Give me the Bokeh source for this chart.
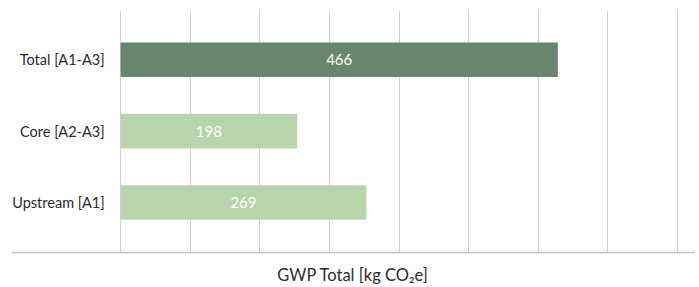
from bokeh.plotting import figure
from bokeh.models import Range1d, FixedTicker, ColumnDataSource
from bokeh.core.properties import value
from bokeh.embed import file_html
from bokeh.resources import INLINE
import numpy as np

# ---- data ----
categories = ["Total [A1-A3]", "Core [A2-A3]", "Upstream [A1]"]
gwp_values = [466, 198, 269]
bar_colors = ["#68866b", "#b8d4aa", "#b8d4aa"]
axis_title = "GWP Total [kg CO\u2082e]"

# value-axis settings (axis has no tick labels)
X_MIN = 16.35
X_STEP = 71.6
N_GRID = 9
X_PAD_LEFT = 112.2     # room for category labels left of the value axis
X_PAD_RIGHT = 17.4     # baseline overhang right of the last grid line

FONT = "Lato"
TEXT_COLOR = "#2b2b2b"
LINE_COLOR = "#c2c2c2"

n = len(categories)
ypos = [n - 1 - i for i in range(n)]
label_x = [(X_MIN + v) / 2 for v in gwp_values]

src = ColumnDataSource(dict(y=ypos, right=gwp_values, left=[X_MIN] * n,
                            color=bar_colors, lx=label_x,
                            txt=[str(v) for v in gwp_values]))

x_last = X_MIN + (N_GRID - 1) * X_STEP
p = figure(width=699, height=287, output_backend="svg", toolbar_location=None,
           x_range=Range1d(X_MIN - X_PAD_LEFT, x_last + X_PAD_RIGHT),
           y_range=Range1d(-0.70, 2.691),
           min_border_left=11, min_border_right=5, min_border_top=10,
           min_border_bottom=32)

p.hbar(y="y", left="left", right="right", height=0.485, color="color",
       line_color=None, source=src)
p.text(x="lx", y="y", text="txt", source=src, text_color="white",
       text_font=value(FONT), text_font_size="15px", text_align="center",
       text_baseline="middle")

# value axis: baseline + title only
p.xaxis.ticker = FixedTicker(ticks=[])
p.xaxis.axis_line_color = LINE_COLOR
p.xaxis.axis_line_width = 1.5
p.xaxis.major_tick_line_color = None
p.xaxis.minor_tick_line_color = None
p.xaxis.axis_label = axis_title
p.xaxis.axis_label_standoff = 12
p.xaxis.axis_label_text_font = FONT
p.xaxis.axis_label_text_font_size = "16.5px"
p.xaxis.axis_label_text_font_style = "normal"
p.xaxis.axis_label_text_color = TEXT_COLOR

p.xgrid.ticker = FixedTicker(ticks=list(X_MIN + X_STEP * np.arange(N_GRID)))
p.xgrid.grid_line_color = "#d0d0d0"
p.xgrid.grid_line_width = 1
p.ygrid.grid_line_color = None

# category axis placed at the value-axis minimum
p.yaxis.fixed_location = X_MIN
p.yaxis.ticker = FixedTicker(ticks=ypos)
p.yaxis.major_label_overrides = {y: c for y, c in zip(ypos, categories)}
p.yaxis.axis_line_color = None
p.yaxis.major_tick_line_color = None
p.yaxis.minor_tick_line_color = None
p.yaxis.major_label_standoff = 10
p.yaxis.major_label_text_font = FONT
p.yaxis.major_label_text_font_size = "14.5px"
p.yaxis.major_label_text_color = TEXT_COLOR
p.outline_line_color = None

open("out.html", "w").write(file_html(p, INLINE))
